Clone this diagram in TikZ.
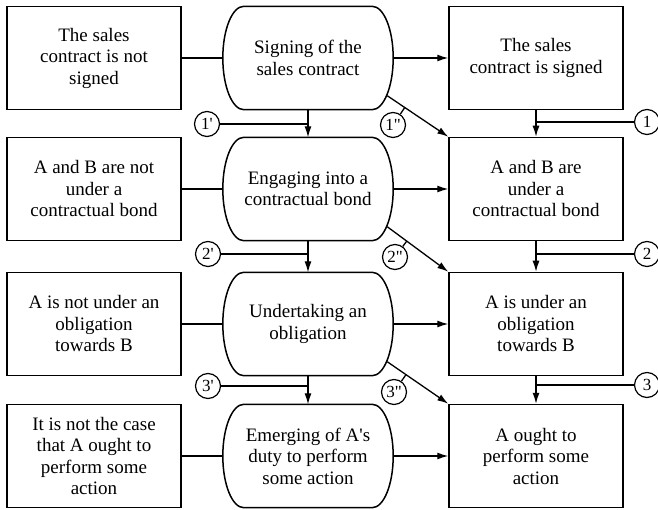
\documentclass[tikz,border=0pt]{standalone}
\usepackage{fontspec}
\setmainfont{Liberation Serif}
\newfontfamily\plainserif{Liberation Serif}
\usetikzlibrary{arrows.meta,calc}
\tikzset{
  boxline/.style={line width=1.5pt},
  sbox/.style={draw, line width=1.5pt, minimum width=174pt, minimum height=103pt, align=center, inner sep=2pt, font=\plainserif\fontsize{19}{21.5}\selectfont},
  cbox/.style={minimum width=170pt, minimum height=103pt, align=center, inner sep=0pt, font=\plainserif\fontsize{19}{21.5}\selectfont},
  num/.style={draw, circle, line width=1.2pt, minimum size=25pt, inner sep=0pt, font=\plainserif\fontsize{17}{17}\selectfont},
  conn/.style={line width=1.3pt},
  arr/.style={line width=1.3pt, -{Latex[length=11pt,width=7pt]}}
}
\newcommand\mycapsule[1]{%
 \draw[boxline] ($(#1.north west)+(21,0)$) -- ($(#1.north east)+(-21,0)$)
  .. controls ($(#1.north east)+(-9.4,0)$) and ($(#1.east)+(0,-28.4)$) .. (#1.east)
  .. controls ($(#1.east)+(0,28.4)$) and ($(#1.south east)+(-9.4,0)$) .. ($(#1.south east)+(-21,0)$)
  -- ($(#1.south west)+(21,0)$)
  .. controls ($(#1.south west)+(9.4,0)$) and ($(#1.west)+(0,28.4)$) .. (#1.west)
  .. controls ($(#1.west)+(0,-28.4)$) and ($(#1.north west)+(9.4,0)$) .. cycle;}
\begin{document}
\begin{tikzpicture}[x=1pt,y=-1pt]
\useasboundingbox (0,0) rectangle (658,510);
% left column
\node[sbox] (l1) at (94,58) {The sales\\contract is not\\signed};
\node[sbox] (l2) at (94,189) {A and B are not\\under a\\contractual bond};
\node[sbox] (l3) at (94,324) {A is not under an\\obligation\\towards B};
\node[sbox] (l4) at (94,456) {It is not the case\\that A ought to\\perform some\\action};
% middle column
\node[cbox] (m1) at (308,58) {Signing of the\\sales contract};
\node[cbox] (m2) at (308,189) {Engaging into a\\contractual bond};
\node[cbox] (m3) at (308,324) {Undertaking an\\obligation};
\node[cbox] (m4) at (308,456) {Emerging of A's\\duty to perform\\some action};
\mycapsule{m1}\mycapsule{m2}\mycapsule{m3}\mycapsule{m4}
% right column
\node[sbox] (r1) at (536,58) {The sales\\contract is signed};
\node[sbox] (r2) at (536,189) {A and B are\\under a\\contractual bond};
\node[sbox] (r3) at (536,324) {A is under an\\obligation\\towards B};
\node[sbox] (r4) at (536,456) {A ought to\\perform some\\action};
% circles
\node[num] (c1p) at (207,124) {1'};
\node[num] (c2p) at (208,254) {2'};
\node[num] (c3p) at (208,386) {3'};
\node[num] (c1pp) at (393,125) {1"};
\node[num] (c2pp) at (395,257) {2"};
\node[num] (c3pp) at (394,392) {3"};
\node[num] (c1) at (647,122) {1};
\node[num] (c2) at (647,254) {2};
\node[num] (c3) at (647,385) {3};
% horizontal connectors
\foreach \i in {1,2,3,4}{
  \draw[conn] (l\i) -- (m\i);
  \draw[arr] (m\i) -- (r\i);
}
% vertical arrows
\foreach \a/\b in {1/2,2/3,3/4}{
  \draw[arr] (m\a) -- (m\b);
  \draw[arr] (r\a) -- (r\b);
}
% circle feeders
\draw[conn] (c1p) -- (c1p -| m1.south);
\draw[conn] (c2p) -- (c2p -| m2.south);
\draw[conn] (c3p) -- (c3p -| m3.south);
\draw[conn] (c1) -- (c1 -| r1.south);
\draw[conn] (c2) -- (c2 -| r2.south);
\draw[conn] (c3) -- (c3 -| r3.south);
% diagonals
\coordinate (d1) at ($(m1.south east)+(-6,-14)$);
\coordinate (d2) at ($(m2.south east)+(-6,-14)$);
\coordinate (d3) at ($(m3.south east)+(-6,-14)$);
\draw[arr] (d1) -- (r2.north west);
\draw[arr] (d2) -- (r3.north west);
\draw[arr] (d3) -- (r4.north west);
\draw[conn] (c1pp) -- ($(d1)!(c1pp)!(r2.north west)$);
\draw[conn] (c2pp) -- ($(d2)!(c2pp)!(r3.north west)$);
\draw[conn] (c3pp) -- ($(d3)!(c3pp)!(r4.north west)$);
\end{tikzpicture}
\end{document}
